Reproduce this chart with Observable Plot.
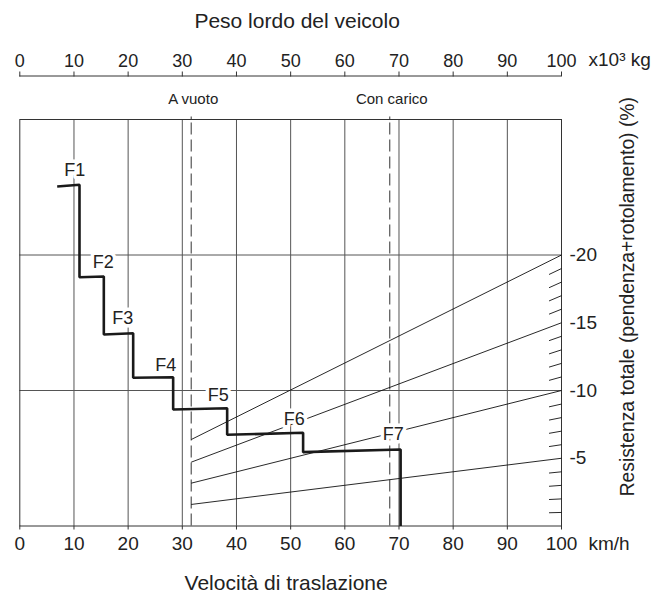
<!DOCTYPE html>
<html><head><meta charset="utf-8">
<script src="https://cdn.jsdelivr.net/npm/d3@7"></script>
<script src="https://cdn.jsdelivr.net/npm/@observablehq/plot@0.6"></script>
<style>body{margin:0;background:#fff;} svg{display:block;}</style>
</head><body><div id="chart"></div>
<script>
// Tractive-force step curve (speed km/h, resistance %)
const stepX = [6.9, 11.02, 11.02, 15.51, 15.51, 20.93, 20.93, 28.31, 28.31, 38.28, 38.28, 52.3, 52.3, 70.3, 70.3];
const stepY = [25.06, 25.18, 18.36, 18.41, 14.13, 14.23, 10.94, 10.98, 8.6, 8.69, 6.73, 6.88, 5.45, 5.65, 0];
const gearLabels = ["F1", "F2", "F3", "F4", "F5", "F6", "F7"];
const gearLabelX = [10.13, 15.42, 18.99, 26.95, 36.65, 50.68, 68.95];
const gearLabelY = [26.27, 19.43, 15.33, 11.85, 9.67, 7.87, 6.78];
// Vehicle weight markers (x10^3 kg)
const weightMarks = [31.64, 68.3];
const weightLabels = ["A vuoto", "Con carico"];
// Resistance rays: value at empty weight line and at right edge
const rayEnd = [5, 10, 15, 20];
const rayStart = [1.59, 3.16, 4.71, 6.38];
const minorTicks = [1, 2, 3, 4, 6, 7, 8, 9, 11, 12, 13, 14, 16, 17, 18, 19];
const xTicks = [0, 10, 20, 30, 40, 50, 60, 70, 80, 90, 100];
const gridX = [10, 20, 30, 40, 50, 60, 70, 80, 90];
const gridY = [10, 20];
const yTicks = [5, 10, 15, 20];

const stepData = stepX.map((x, i) => ({x, y: stepY[i]}));
const ink = "#222";
const txt = {fill: ink, textAnchor: "middle", lineAnchor: "middle", text: d => d};

const chart = Plot.plot({
  width: 667, height: 598,
  marginLeft: 19.3, marginRight: 106, marginTop: 119, marginBottom: 72.5,
  style: {fontFamily: "'Liberation Sans', Arial, sans-serif", fontSize: "19px", color: ink, background: "#fff"},
  x: {domain: [0, 100], label: null},
  y: {domain: [0, 30], label: null},
  marks: [
    Plot.ruleX(gridX, {stroke: "#555", strokeWidth: 1}),
    Plot.ruleY(gridY, {stroke: "#555", strokeWidth: 1}),
    Plot.frame({stroke: "#333", strokeWidth: 1}),
    Plot.ruleX(weightMarks, {y1: 0, y2: 30, stroke: "#333", strokeWidth: 1, strokeDasharray: "12,5"}),
    Plot.axisX({anchor: "top", ticks: weightMarks, tickSize: 3.5, tickFormat: () => "", label: null, stroke: "#333"}),
    Plot.link(rayEnd, {x1: weightMarks[0], y1: (d, i) => rayStart[i], x2: 100, y2: d => d, stroke: "#111", strokeWidth: 0.9}),
    Plot.link(minorTicks, {x1: 97.7, y1: d => d * 0.977, x2: 100, y2: d => d, stroke: "#111", strokeWidth: 0.9}),
    Plot.text(gearLabels, {...txt, x: (d, i) => gearLabelX[i], y: (d, i) => gearLabelY[i], fontSize: 18, stroke: "white", strokeWidth: 7, paintOrder: "stroke"}),
    Plot.line(stepData, {x: "x", y: "y", stroke: "#1a1a1a", strokeWidth: 2.6, strokeLinejoin: "miter", strokeLinecap: "butt"}),
    Plot.axisX({anchor: "bottom", ticks: xTicks, tickSize: 4, tickPadding: 6, fontSize: 19, label: null, stroke: "#333"}),
    Plot.axisX({anchor: "top", ticks: xTicks, tickSize: 5, tickPadding: 4, dy: -43.5, fontSize: 18, label: null, stroke: "#333"}),
    Plot.ruleY([30], {dy: -43.5, stroke: "#333", strokeWidth: 1}),
    Plot.axisY({anchor: "right", ticks: yTicks, tickFormat: d => "-" + d, tickSize: 0, tickPadding: 8, fontSize: 19, label: null}),
    Plot.text(weightLabels, {...txt, x: (d, i) => weightMarks[i], frameAnchor: "top", dx: 2, dy: -20, fontSize: 15}),
    Plot.text(["Peso lordo del veicolo"], {...txt, frameAnchor: "top", dx: 6.5, dy: -98, fontSize: 21}),
    Plot.text(["Velocità di traslazione"], {...txt, frameAnchor: "bottom", dx: -4.5, dy: 57.5, fontSize: 21}),
    Plot.text(["Resistenza totale (pendenza+rotolamento) (%)"], {...txt, frameAnchor: "right", rotate: -90, dx: 66, dy: -26, fontSize: 19.3}),
    Plot.text(["x10³ kg"], {...txt, frameAnchor: "top-right", textAnchor: "start", dx: 27, dy: -59.5, fontSize: 19}),
    Plot.text(["km/h"], {...txt, frameAnchor: "bottom-right", textAnchor: "start", dx: 27, dy: 17.5, fontSize: 19})
  ]
});
document.getElementById("chart").append(chart);
</script>
</body></html>
